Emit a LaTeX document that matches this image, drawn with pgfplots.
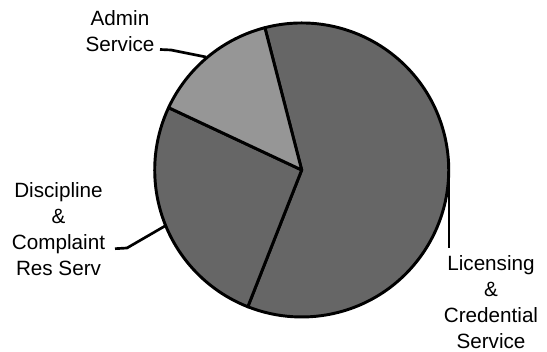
\documentclass[border=0pt]{standalone}
\usepackage{pgfplots}
\pgfplotsset{compat=1.18}
\usepackage{fontspec}
\setmainfont{Liberation Sans}
\definecolor{licC}{RGB}{102,102,102}
\definecolor{discC}{RGB}{102,102,102}
\definecolor{adminC}{RGB}{150,150,150}
\begin{document}
\begin{tikzpicture}
\begin{axis}[
  hide axis,
  x=0.75pt, y=0.75pt,
  xmin=0, xmax=547, ymin=0, ymax=352,
  clip=false,
  anchor=origin, at={(0,0)},
]
\path (axis cs:0,0) rectangle (axis cs:547,352);
% slices: values (percent) 60, 26, 14, starting at 104.5 deg, clockwise
\filldraw[fill=licC, draw=black, line width=2.2pt, line join=round]
  (axis cs:301.7,182) -- ++(104.5:110.25pt)
  arc[start angle=104.5, delta angle={-60*3.6}, radius=110.25pt] -- cycle;
\filldraw[fill=discC, draw=black, line width=2.2pt, line join=round]
  (axis cs:301.7,182) -- ++({104.5-60*3.6}:110.25pt)
  arc[start angle={104.5-60*3.6}, delta angle={-26*3.6}, radius=110.25pt] -- cycle;
\filldraw[fill=adminC, draw=black, line width=2.2pt, line join=round]
  (axis cs:301.7,182) -- ++({104.5-86*3.6}:110.25pt)
  arc[start angle={104.5-86*3.6}, delta angle={-14*3.6}, radius=110.25pt] -- cycle;
% leader lines
\draw[line width=2pt] (axis cs:160,302.5) -- (axis cs:171,302) -- (axis cs:206,295);
\draw[line width=2pt] (axis cs:115,103.3) -- (axis cs:127,104) -- (axis cs:165,126);
\draw[line width=2pt] (axis cs:449,175) -- (axis cs:449,104);
% labels
\begin{scope}[every node/.style={font=\fontsize{15.5}{19}\selectfont, inner sep=0pt, anchor=base}]
\node at (axis cs:120,326) {Admin};
\node at (axis cs:120,300) {Service};
\node at (axis cs:58.5,154) {Discipline};
\node at (axis cs:58.5,128) {\&};
\node at (axis cs:58.5,102) {Complaint};
\node at (axis cs:58.5,76) {Res Serv};
\node at (axis cs:491,81) {Licensing};
\node at (axis cs:491,55) {\&};
\node at (axis cs:491,29) {Credential};
\node at (axis cs:491,3) {Service};
\end{scope}
\end{axis}
\end{tikzpicture}
\end{document}
